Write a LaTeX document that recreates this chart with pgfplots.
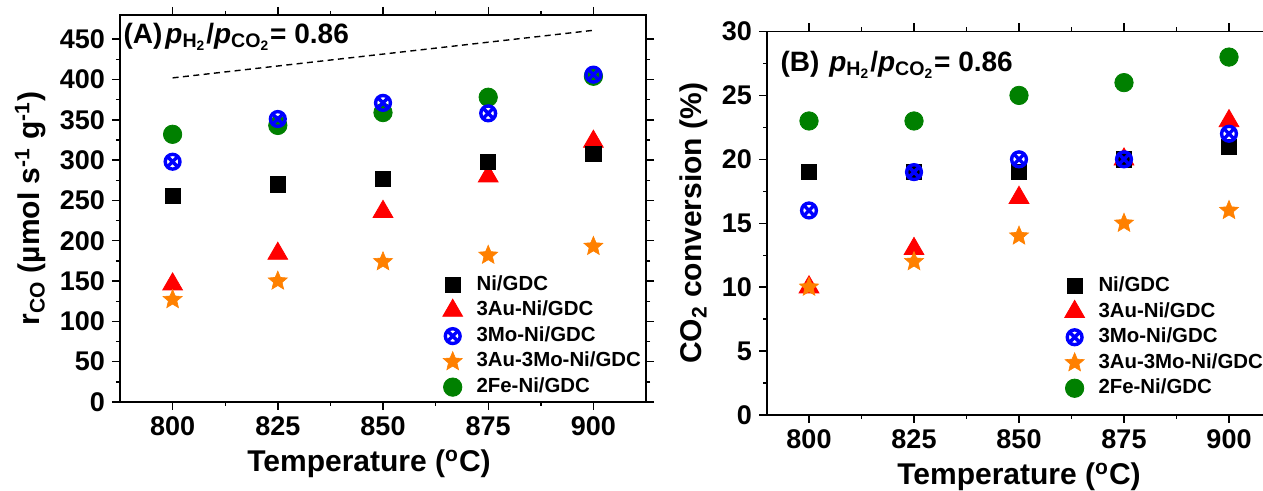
\documentclass[border=0pt]{standalone}
\usepackage{fontspec}
\setmainfont{Liberation Sans}
\usepackage{pgfplots}
\pgfplotsset{compat=1.18}

\definecolor{cgreen}{RGB}{0,128,0}
\definecolor{corange}{RGB}{255,128,0}

% filled five-pointed star
\pgfdeclareplotmark{fstar}{%
  \pgfpathmoveto{\pgfpointpolar{90}{\pgfplotmarksize}}%
  \pgfpathlineto{\pgfpointpolar{126}{0.45\pgfplotmarksize}}%
  \pgfpathlineto{\pgfpointpolar{162}{\pgfplotmarksize}}%
  \pgfpathlineto{\pgfpointpolar{198}{0.45\pgfplotmarksize}}%
  \pgfpathlineto{\pgfpointpolar{234}{\pgfplotmarksize}}%
  \pgfpathlineto{\pgfpointpolar{270}{0.45\pgfplotmarksize}}%
  \pgfpathlineto{\pgfpointpolar{306}{\pgfplotmarksize}}%
  \pgfpathlineto{\pgfpointpolar{342}{0.45\pgfplotmarksize}}%
  \pgfpathlineto{\pgfpointpolar{18}{\pgfplotmarksize}}%
  \pgfpathlineto{\pgfpointpolar{54}{0.45\pgfplotmarksize}}%
  \pgfpathclose
  \pgfusepathqfillstroke}

\pgfplotsset{
  panel/.style={
    scale only axis,
    axis line style={line width=0.8pt},
    tick align=outside,
    major tick length=4pt, minor tick length=2pt,
    every tick/.style={line width=0.7pt, black},
    xtick={800,825,...,900},
    minor x tick num=1, minor y tick num=1,
    ymin=0,
    tick label style={font=\fontsize{13.5}{13.5}\selectfont\bfseries},
    /pgf/number format/assume math mode=true,
    label style={font=\fontsize{15}{15}\selectfont\bfseries},
    xlabel={Temperature (\textsuperscript{o}C)},
    legend cell align=left,
    legend style={draw=none, fill=none, inner sep=0pt,
      font=\fontsize{10.2}{10.2}\selectfont\bfseries,
      row sep=0pt,
      /tikz/every odd column/.append style={column sep=5pt},
      nodes={inner ysep=0pt, inner xsep=2pt, text height=9pt, text depth=3.75pt}},
  },
  sNi/.style={only marks, mark=square*, mark size=3.8pt, black},
  sAu/.style={only marks, mark=triangle*, mark size=5.7pt, red},
  sMo/.style={only marks, mark=otimes, mark size=3.7pt, blue, mark options={line width=1.7pt}},
  sAuMo/.style={only marks, mark=fstar, mark size=5pt, corange, mark options={fill=corange, line width=0.3pt}},
  sFe/.style={only marks, mark=*, mark size=4.6pt, cgreen},
}

\begin{document}
\begin{tikzpicture}
\begin{axis}[panel,
  at={(0,0)}, anchor=south west,
  width=263pt, height=193.5pt,
  xmin=787.5, xmax=912.5,
  ymax=480, ytick={0,50,...,450},
  xlabel style={xshift=-7pt},
  ylabel={r\textsubscript{CO} (µmol s\textsuperscript{-1} g\textsuperscript{-1})},
  legend style={at={(0.613,0.336)}, anchor=north west},
]
\addlegendimage{sNi}\addlegendentry{Ni/GDC}
\addlegendimage{sAu}\addlegendentry{3Au-Ni/GDC}
\addlegendimage{sMo}\addlegendentry{3Mo-Ni/GDC}
\addlegendimage{sAuMo}\addlegendentry{3Au-3Mo-Ni/GDC}
\addlegendimage{sFe}\addlegendentry{2Fe-Ni/GDC}
\addplot[black, dash pattern=on 3pt off 2.2pt, line width=0.7pt, forget plot]
  coordinates {(800,402) (900,461)};
\addplot[sFe, forget plot] coordinates {(800,332) (825,343) (850,359) (875,378) (900,404)};
\addplot[sAu, forget plot] coordinates {(800,146) (825,184) (850,236) (875,280) (900,323)};
\addplot[sNi, forget plot] coordinates {(800,256) (825,270) (850,277) (875,298) (900,308)};
\addplot[sAuMo, forget plot] coordinates {(800,127) (825,150) (850,174) (875,182) (900,193)};
\addplot[sMo, forget plot] coordinates {(800,298) (825,351) (850,371) (875,358) (900,406)};
\node[anchor=west, inner sep=0pt, font=\fontsize{14}{14}\selectfont\bfseries]
  at (rel axis cs:0.006,0.943)
  {(A)\hspace{1.5pt}\textit{p}\textsubscript{H\textsubscript{2}}/\textit{p}\textsubscript{CO\textsubscript{2}}= 0.86};
\end{axis}

\begin{axis}[panel,
  at={(323.5pt,-6.5pt)}, anchor=south west,
  width=252pt, height=191.75pt,
  xmin=790, xmax=910,
  ymax=30, ytick={0,5,...,30},
  ylabel={CO\textsubscript{2} conversion (\%)},
  legend style={at={(0.590,0.370)}, anchor=north west},
]
\addlegendimage{sNi}\addlegendentry{Ni/GDC}
\addlegendimage{sAu}\addlegendentry{3Au-Ni/GDC}
\addlegendimage{sMo}\addlegendentry{3Mo-Ni/GDC}
\addlegendimage{sAuMo}\addlegendentry{3Au-3Mo-Ni/GDC}
\addlegendimage{sFe}\addlegendentry{2Fe-Ni/GDC}
\addplot[sFe, forget plot] coordinates {(800,23) (825,23) (850,25) (875,26) (900,28)};
\addplot[sAu, forget plot] coordinates {(800,10) (825,13) (850,17) (875,20) (900,23)};
\addplot[sNi, forget plot] coordinates {(800,19) (825,19) (850,19) (875,20) (900,21)};
\addplot[sAuMo, forget plot] coordinates {(800,10) (825,12) (850,14) (875,15) (900,16)};
\addplot[sMo, forget plot] coordinates {(800,16) (825,19) (850,20) (875,20) (900,22)};
\node[anchor=west, inner sep=0pt, font=\fontsize{14}{14}\selectfont\bfseries]
  at (rel axis cs:0.026,0.913)
  {(B)\hspace{5pt}\textit{p}\textsubscript{H\textsubscript{2}}/\textit{p}\textsubscript{CO\textsubscript{2}}= 0.86};
\end{axis}

\pgfresetboundingbox
\path[use as bounding box] (-60pt,-44.5pt) rectangle (571.5pt,201pt);
\end{tikzpicture}
\end{document}
